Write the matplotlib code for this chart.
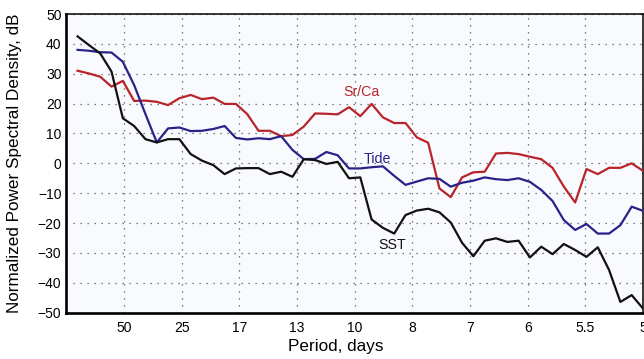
import numpy as np
import matplotlib
matplotlib.use('Agg')
import matplotlib.pyplot as plt

# spectra, sampled every 1/255 cycles per day (k = 1..52)
srca = [31.0, 30.1, 29.0, 25.7, 27.6, 20.9, 21.0, 20.6, 19.5, 21.8,
        22.9, 21.5, 22.0, 19.9, 19.9, 16.5, 10.9, 10.9, 9.1, 9.5,
        12.3, 16.7, 16.6, 16.4, 18.8, 15.8, 19.9, 15.4, 13.5, 13.5,
        8.7, 6.9, -8.4, -11.3, -4.7, -3.0, -2.8, 3.3, 3.5, 3.1,
        2.2, 1.4, -1.5, -7.8, -13.1, -1.9, -3.6, -1.5, -1.5, 0.0,
        -2.5, -4.0]
tide = [38.0, 37.7, 37.2, 37.1, 34.0, 26.2, 16.5, 7.0, 11.7, 12.0,
        10.8, 10.9, 11.5, 12.5, 8.5, 8.0, 8.4, 8.1, 9.1, 4.5,
        1.4, 1.5, 3.8, 2.7, -1.7, -1.7, -1.3, -1.0, -4.2, -7.2,
        -6.1, -5.0, -5.2, -7.8, -6.5, -5.8, -4.7, -5.3, -5.6, -5.0,
        -6.2, -8.9, -12.6, -19.0, -22.3, -20.3, -23.5, -23.5, -20.7, -14.5,
        -15.9, -17.0]
sst = [42.5, 39.6, 36.8, 30.7, 15.1, 12.5, 8.1, 7.0, 8.1, 8.1,
       3.1, 0.9, -0.6, -3.6, -1.7, -1.6, -1.6, -3.6, -2.8, -4.5,
       1.4, 1.1, -0.2, 0.5, -5.0, -4.7, -18.8, -21.6, -23.5, -17.3,
       -15.8, -15.2, -16.4, -19.8, -26.6, -31.1, -25.9, -25.1, -26.3, -25.9,
       -31.5, -27.9, -30.4, -27.0, -29.0, -31.3, -28.1, -35.7, -46.4, -44.1,
       -48.6, -40.0]

freq = np.arange(1, len(sst) + 1) / 255.0

tick_freq = [0.02, 0.04, 0.06, 0.08, 0.10, 0.12, 0.14, 0.16, 0.18, 0.20]
tick_labels = ['50', '25', '17', '13', '10', '8', '7', '6', '5.5', '5']

red = '#b8242a'
blue = '#2a2288'

plt.rcParams['font.family'] = ['Liberation Sans', 'DejaVu Sans']

fig = plt.figure(figsize=(6.44, 3.59), dpi=100)
ax = fig.add_axes([66.3 / 644, 1 - 312.7 / 359, (643 - 66.3) / 644, (312.7 - 14) / 359])
ax.set_facecolor('#f8fafe')

ax.plot(freq, srca, color=red, lw=1.6, zorder=3)
ax.plot(freq, tide, color=blue, lw=1.6, zorder=3)
ax.plot(freq, sst, color='#111111', lw=1.6, zorder=3)

ax.text(0.1025, 23.9, 'Sr/Ca', color=red, fontsize=10.2, ha='center', va='center')
ax.text(0.1079, 1.5, 'Tide', color=blue, fontsize=10.2, ha='center', va='center')
ax.text(0.1129, -27.5, 'SST', color='#111111', fontsize=10.2, ha='center', va='center')

ax.set_xlim(0, 0.2)
ax.set_ylim(-50, 50)
ax.set_xticks(tick_freq)
ax.set_xticklabels(tick_labels)
ax.set_yticks(np.arange(-50, 51, 10))
ax.tick_params(axis='both', length=0, labelsize=10)
ax.tick_params(axis='x', pad=6)
ax.tick_params(axis='y', pad=3.5)

ax.grid(True, color='#555555', lw=0.9, linestyle=(0, (1, 4.6)))
ax.set_axisbelow(True)

for side in ['left', 'bottom']:
    ax.spines[side].set_linewidth(1.9)
for side in ['top', 'right']:
    ax.spines[side].set_linewidth(1.1)

fig.text(335.5 / 644, 1 - 347 / 359, 'Period, days', fontsize=12.3, ha='center', va='center')
fig.text(15 / 644, 1 - 163 / 359, 'Normalized Power Spectral Density, dB', fontsize=12.3,
         rotation=90, ha='center', va='center')

fig.savefig('out.png', dpi=100)
